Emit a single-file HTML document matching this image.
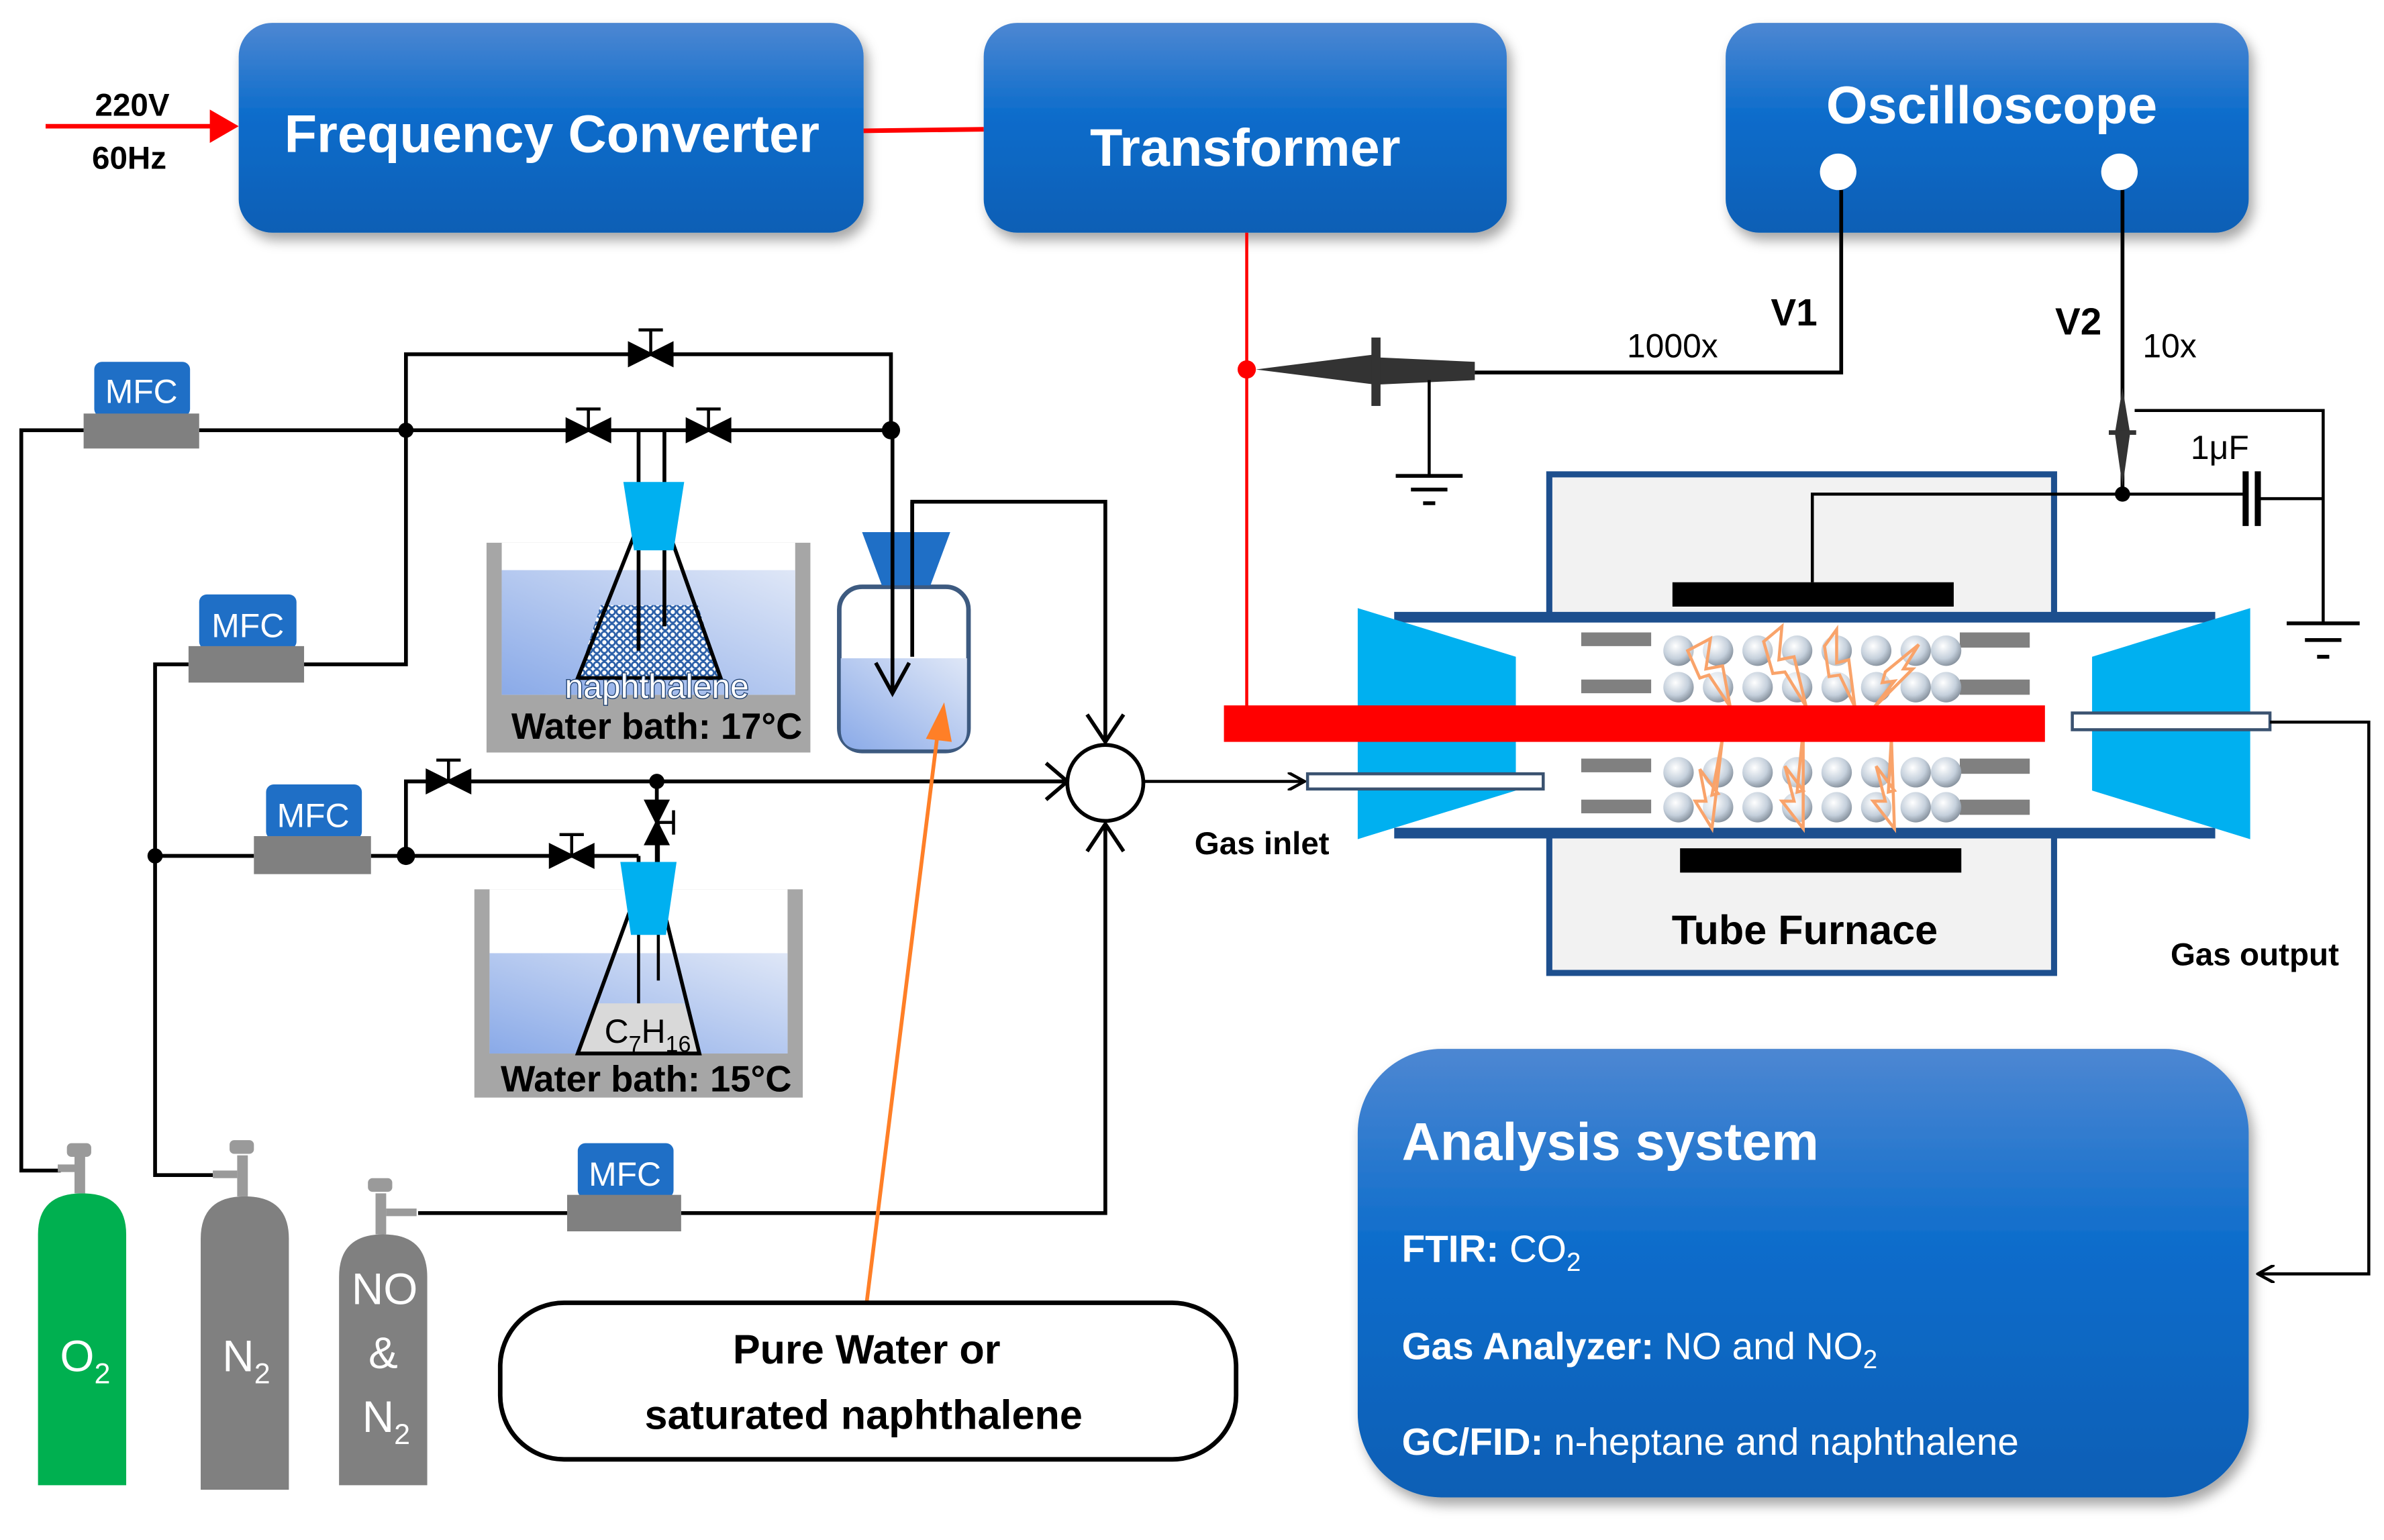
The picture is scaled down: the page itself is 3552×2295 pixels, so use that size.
<!DOCTYPE html>
<html><head><meta charset="utf-8"><style>
html,body{margin:0;padding:0;background:#fff;}
svg{display:block;}
text{font-family:"Liberation Sans",sans-serif;}
</style></head><body>
<svg width="3552" height="2295" viewBox="0 0 1568 1013" xmlns="http://www.w3.org/2000/svg">
<defs>
<linearGradient id="bg" x1="0" y1="0" x2="0" y2="1">
<stop offset="0" stop-color="#4d87d2"/><stop offset="0.45" stop-color="#0b6ccb"/><stop offset="1" stop-color="#0a5fb5"/>
</linearGradient>
<linearGradient id="wat" x1="0" y1="1" x2="1" y2="0">
<stop offset="0" stop-color="#8aaae8"/><stop offset="1" stop-color="#dfe7f7"/>
</linearGradient>
<radialGradient id="sph" cx="0.4" cy="0.35" r="0.7">
<stop offset="0" stop-color="#ffffff"/><stop offset="0.6" stop-color="#c5d0dc"/><stop offset="1" stop-color="#7f8a96"/>
</radialGradient>
<pattern id="nap" width="5" height="5" patternUnits="userSpaceOnUse">
<rect width="5" height="5" fill="#fff"/><circle cx="2.5" cy="2.5" r="2" fill="none" stroke="#2b5fa8" stroke-width="1.2"/>
</pattern>
<filter id="sh" x="-10%" y="-10%" width="125%" height="130%">
<feDropShadow dx="3" dy="5" stdDeviation="4" flood-color="#000" flood-opacity="0.35"/>
</filter>
<marker id="ar" markerWidth="12" markerHeight="12" refX="11" refY="6" orient="auto" markerUnits="userSpaceOnUse">
<path d="M0,0 L11,6 L0,12" fill="none" stroke="#000" stroke-width="2"/>
</marker>
</defs>

<rect x="157" y="15" width="411" height="138" rx="22" fill="url(#bg)" filter="url(#sh)"/>
<rect x="647" y="15" width="344" height="138" rx="22" fill="url(#bg)" filter="url(#sh)"/>
<rect x="1135" y="15" width="344" height="138" rx="22" fill="url(#bg)" filter="url(#sh)"/>
<text x="363" y="100" font-size="35" font-weight="bold" fill="#fff" text-anchor="middle">Frequency Converter</text>
<text x="819" y="109" font-size="35" font-weight="bold" fill="#fff" text-anchor="middle">Transformer</text>
<text x="1310" y="81" font-size="35" font-weight="bold" fill="#fff" text-anchor="middle">Oscilloscope</text>
<circle cx="1209" cy="113" r="12" fill="#fff"/>
<circle cx="1394" cy="113" r="12" fill="#fff"/>

<text x="87" y="76" font-size="21" font-weight="bold" text-anchor="middle">220V</text>
<text x="85" y="111" font-size="21" font-weight="bold" text-anchor="middle">60Hz</text>
<line x1="30" y1="83" x2="140" y2="83" stroke="#f00" stroke-width="3"/>
<polygon points="138,72 157,83 138,94" fill="#f00"/>
<line x1="568" y1="86" x2="647" y2="85" stroke="#f00" stroke-width="3"/>

<line x1="820" y1="153" x2="820" y2="465" stroke="#f00" stroke-width="2"/>
<circle cx="820" cy="243" r="6" fill="#f00"/>
<polygon points="826,243 905,233 905,253" fill="#333"/>
<polygon points="905,235 970,238 970,250 905,253" fill="#333"/>
<rect x="902" y="222" width="6" height="45" fill="#333"/>
<line x1="940" y1="250" x2="940" y2="313" stroke="#000" stroke-width="2"/>
<line x1="918" y1="313" x2="962" y2="313" stroke="#000" stroke-width="2.5"/>
<line x1="928" y1="322" x2="952" y2="322" stroke="#000" stroke-width="2.5"/>
<line x1="936" y1="331" x2="944" y2="331" stroke="#000" stroke-width="2.5"/>
<polyline points="970,245 1211,245 1211,125" fill="none" stroke="#000" stroke-width="2.5"/>
<text x="1180" y="214" font-size="25" font-weight="bold" text-anchor="middle">V1</text>
<text x="1100" y="235" font-size="22" text-anchor="middle">1000x</text>
<line x1="1396" y1="125" x2="1396" y2="325" stroke="#000" stroke-width="2.5"/>
<polygon points="1396,255 1401,285 1396,320 1391,285" fill="#333"/>
<rect x="1387" y="283" width="18" height="3" fill="#333"/>
<circle cx="1396" cy="325" r="5" fill="#000"/>
<text x="1367" y="220" font-size="25" font-weight="bold" text-anchor="middle">V2</text>
<text x="1427" y="235" font-size="22" text-anchor="middle">10x</text>
<polyline points="1404,270 1528,270 1528,410" fill="none" stroke="#000" stroke-width="2"/>
<line x1="1504" y1="410" x2="1552" y2="410" stroke="#000" stroke-width="2.5"/>
<line x1="1516" y1="421" x2="1540" y2="421" stroke="#000" stroke-width="2.5"/>
<line x1="1524" y1="432" x2="1532" y2="432" stroke="#000" stroke-width="2.5"/>
<line x1="1396" y1="325" x2="1477" y2="325" stroke="#000" stroke-width="2"/>
<line x1="1477" y1="310" x2="1477" y2="346" stroke="#000" stroke-width="4"/>
<line x1="1485" y1="310" x2="1485" y2="346" stroke="#000" stroke-width="4"/>
<line x1="1485" y1="328" x2="1528" y2="328" stroke="#000" stroke-width="2"/>
<text x="1460" y="302" font-size="22" text-anchor="middle">1μF</text>

<rect x="1019" y="312" width="332" height="328" fill="#f2f2f2" stroke="#1d4f8e" stroke-width="4"/>
<rect x="917" y="404" width="540" height="146" fill="#fff"/>
<line x1="917" y1="406" x2="1457" y2="406" stroke="#1d4f8e" stroke-width="7"/>
<line x1="917" y1="548" x2="1457" y2="548" stroke="#1d4f8e" stroke-width="7"/>
<polyline points="1192,383 1192,325 1396,325" fill="none" stroke="#000" stroke-width="2"/>
<rect x="1100" y="383" width="185" height="16" fill="#000"/>
<rect x="1105" y="558" width="185" height="16" fill="#000"/>
<polygon points="893,400 997,432 997,520 893,552" fill="#00b0f0"/>
<polygon points="1376,432 1480,400 1480,552 1376,520" fill="#00b0f0"/>
<g fill="#808080">
<rect x="1040" y="416" width="46" height="9"/><rect x="1040" y="447" width="46" height="9"/>
<rect x="1040" y="499" width="46" height="9"/><rect x="1040" y="526" width="46" height="9"/>
<rect x="1289" y="416" width="46" height="10"/><rect x="1289" y="447" width="46" height="10"/>
<rect x="1289" y="499" width="46" height="10"/><rect x="1289" y="526" width="46" height="10"/>
</g>
<g fill="url(#sph)">
<circle cx="1104" cy="428" r="10"/><circle cx="1130" cy="428" r="10"/><circle cx="1156" cy="428" r="10"/><circle cx="1182" cy="428" r="10"/><circle cx="1208" cy="428" r="10"/><circle cx="1234" cy="428" r="10"/><circle cx="1260" cy="428" r="10"/><circle cx="1280" cy="428" r="10"/>
<circle cx="1104" cy="452" r="10"/><circle cx="1130" cy="452" r="10"/><circle cx="1156" cy="452" r="10"/><circle cx="1182" cy="452" r="10"/><circle cx="1208" cy="452" r="10"/><circle cx="1234" cy="452" r="10"/><circle cx="1260" cy="452" r="10"/><circle cx="1280" cy="452" r="10"/>
<circle cx="1104" cy="508" r="10"/><circle cx="1130" cy="508" r="10"/><circle cx="1156" cy="508" r="10"/><circle cx="1182" cy="508" r="10"/><circle cx="1208" cy="508" r="10"/><circle cx="1234" cy="508" r="10"/><circle cx="1260" cy="508" r="10"/><circle cx="1280" cy="508" r="10"/>
<circle cx="1104" cy="531" r="10"/><circle cx="1130" cy="531" r="10"/><circle cx="1156" cy="531" r="10"/><circle cx="1182" cy="531" r="10"/><circle cx="1208" cy="531" r="10"/><circle cx="1234" cy="531" r="10"/><circle cx="1260" cy="531" r="10"/><circle cx="1280" cy="531" r="10"/>
</g>
<g fill="rgba(255,255,255,0.4)" stroke="#f9a36a" stroke-width="2">
<polygon points="1110,428 1125,420 1122,440 1133,438 1138,465 1124,444 1118,446"/>
<polygon points="1160,422 1172,412 1170,434 1180,432 1188,465 1174,442 1166,443"/>
<polygon points="1200,425 1208,414 1208,436 1216,434 1220,465 1210,444 1203,445"/>
<polygon points="1240,442 1262,424 1252,440 1258,440 1232,466 1246,448 1238,449"/>
<polygon points="1126,545 1115,527 1122,527 1118,506 1130,522 1126,523 1133,485"/>
<polygon points="1186,545 1172,527 1180,527 1174,504 1186,520 1182,521 1186,480"/>
<polygon points="1246,545 1232,527 1240,527 1234,504 1246,520 1242,521 1244,485"/>
</g>
<rect x="805" y="464" width="540" height="24" fill="#f00"/>
<rect x="860" y="509" width="155" height="10" fill="#fff" stroke="#3a5270" stroke-width="2"/>
<rect x="1363" y="469" width="130" height="11" fill="#fff" stroke="#3a5270" stroke-width="2"/>
<line x1="752" y1="514" x2="858" y2="514" stroke="#000" stroke-width="2" marker-end="url(#ar)"/>
<text x="830" y="562" font-size="21" font-weight="bold" text-anchor="middle">Gas inlet</text>
<text x="1187" y="621" font-size="27" font-weight="bold" text-anchor="middle">Tube Furnace</text>
<polyline points="1493,475 1558,475 1558,838 1485,838" fill="none" stroke="#000" stroke-width="2" marker-end="url(#ar)"/>
<text x="1483" y="635" font-size="21" font-weight="bold" text-anchor="middle">Gas output</text>

<rect x="893" y="690" width="586" height="295" rx="55" fill="url(#bg)" filter="url(#sh)"/>
<text x="922" y="763" font-size="35" font-weight="bold" fill="#fff">Analysis system</text>
<text x="922" y="830" font-size="25" fill="#fff"><tspan font-weight="bold">FTIR:</tspan> CO<tspan font-size="17" dy="6">2</tspan></text>
<text x="922" y="894" font-size="25" fill="#fff"><tspan font-weight="bold">Gas Analyzer:</tspan> NO and NO<tspan font-size="17" dy="6">2</tspan></text>
<text x="922" y="957" font-size="25" fill="#fff"><tspan font-weight="bold">GC/FID:</tspan> n-heptane and naphthalene</text>

<g stroke="#000" stroke-width="2.5" fill="none">
<polyline points="55,283 14,283 14,770 40,770"/>
<line x1="131" y1="283" x2="586" y2="283"/>
<polyline points="267,283 267,233 586,233 586,283"/>
<polyline points="200,437 267,437 267,283"/>
<polyline points="124,437 102,437 102,773 140,773"/>
<line x1="102" y1="563" x2="167" y2="563"/>
<line x1="244" y1="563" x2="420" y2="563"/>
<polyline points="267,563 267,514 700,514"/>
<polyline points="688,502 702,514 688,526"/>
<line x1="432" y1="514" x2="432" y2="600"/>
<line x1="420" y1="563" x2="420" y2="640"/>
<polyline points="600,460 600,330 727,330 727,488"/>
<polyline points="715,470 727,488 739,470"/>
<polyline points="275,798 373,798"/>
<polyline points="448,798 727,798 727,542"/>
<polyline points="715,560 727,542 739,560"/>
</g>
<circle cx="727" cy="515" r="25" fill="#fff" stroke="#000" stroke-width="2.5"/>
<g fill="#000">
<circle cx="267" cy="283" r="5"/><circle cx="586" cy="283" r="6"/><circle cx="102" cy="563" r="5"/><circle cx="267" cy="563" r="6"/><circle cx="432" cy="514" r="5"/>
</g>
<g fill="#000" stroke="#000" stroke-width="2">
<polygon points="414,226 428,233 414,240"/><polygon points="442,226 428,233 442,240"/><line x1="428" y1="233" x2="428" y2="217"/><line x1="420" y1="217" x2="436" y2="217"/>
<polygon points="373,276 387,283 373,290"/><polygon points="401,276 387,283 401,290"/><line x1="387" y1="283" x2="387" y2="269"/><line x1="379" y1="269" x2="395" y2="269"/>
<polygon points="452,276 466,283 452,290"/><polygon points="480,276 466,283 480,290"/><line x1="466" y1="283" x2="466" y2="269"/><line x1="458" y1="269" x2="474" y2="269"/>
<polygon points="281,507 295,514 281,521"/><polygon points="309,507 295,514 309,521"/><line x1="295" y1="514" x2="295" y2="500"/><line x1="287" y1="500" x2="303" y2="500"/>
<polygon points="362,556 376,563 362,570"/><polygon points="390,556 376,563 390,570"/><line x1="376" y1="563" x2="376" y2="549"/><line x1="368" y1="549" x2="384" y2="549"/>
<polygon points="425,527 432,541 439,527"/><polygon points="425,555 432,541 439,555"/><line x1="432" y1="541" x2="443" y2="541"/><line x1="443" y1="533" x2="443" y2="549"/>
</g>
<g>
<rect x="62" y="238" width="63" height="36" rx="5" fill="#1f6fc6"/><rect x="55" y="272" width="76" height="23" fill="#808080"/>
<text x="93" y="265" font-size="22" fill="#fff" text-anchor="middle">MFC</text>
<rect x="131" y="391" width="64" height="36" rx="5" fill="#1f6fc6"/><rect x="124" y="425" width="76" height="24" fill="#808080"/>
<text x="163" y="419" font-size="22" fill="#fff" text-anchor="middle">MFC</text>
<rect x="175" y="516" width="63" height="36" rx="5" fill="#1f6fc6"/><rect x="167" y="550" width="77" height="25" fill="#808080"/>
<text x="206" y="544" font-size="22" fill="#fff" text-anchor="middle">MFC</text>
<rect x="380" y="752" width="63" height="36" rx="5" fill="#1f6fc6"/><rect x="373" y="786" width="75" height="24" fill="#808080"/>
<text x="411" y="780" font-size="22" fill="#fff" text-anchor="middle">MFC</text>
</g>

<!-- water bath 1 -->
<rect x="320" y="357" width="213" height="138" fill="#a6a6a6"/>
<rect x="330" y="357" width="193" height="100" fill="#fff"/>
<rect x="330" y="375" width="193" height="82" fill="url(#wat)"/>
<polygon points="395,398 459,398 474,446 380,446" fill="url(#nap)"/>
<polyline points="418,350 380,446 474,446 440,350" fill="none" stroke="#000" stroke-width="2.5"/>
<line x1="420" y1="283" x2="420" y2="428" stroke="#000" stroke-width="2.5"/>
<line x1="437" y1="283" x2="437" y2="412" stroke="#000" stroke-width="2.5"/>
<polygon points="410,317 450,317 443,362 417,362" fill="#00b0f0"/>
<text x="432" y="459" font-size="22" fill="#fff" text-anchor="middle" stroke="#1d3f70" stroke-width="1.2" paint-order="stroke">naphthalene</text>
<text x="432" y="486" font-size="24" font-weight="bold" text-anchor="middle">Water bath: 17°C</text>

<rect x="552" y="386" width="85" height="108" rx="15" fill="#fff" stroke="#3d5a80" stroke-width="3"/>
<path d="M553,433 H636 V480 Q636,493 622,493 H567 Q553,493 553,480 Z" fill="url(#wat)"/>
<polygon points="567,350 625,350 612,385 580,385" fill="#1f6fc6"/>
<line x1="587" y1="283" x2="587" y2="455" stroke="#000" stroke-width="2.5"/>
<polyline points="576,436 587,456 598,436" fill="none" stroke="#000" stroke-width="2.5"/>
<line x1="600" y1="330" x2="600" y2="432" stroke="#000" stroke-width="2.5"/>

<!-- water bath 2 -->
<rect x="312" y="585" width="216" height="137" fill="#a6a6a6"/>
<rect x="322" y="585" width="196" height="108" fill="#fff"/>
<rect x="322" y="627" width="196" height="66" fill="url(#wat)"/>
<polygon points="392,660 450,660 460,693 380,693" fill="#d9d9d9"/>
<polyline points="414,600 380,693 460,693 437,600" fill="none" stroke="#000" stroke-width="2.5"/>
<line x1="420" y1="563" x2="420" y2="660" stroke="#000" stroke-width="2"/>
<line x1="433" y1="540" x2="433" y2="645" stroke="#000" stroke-width="2"/>
<polygon points="408,567 445,567 438,615 415,615" fill="#00b0f0"/>
<text x="426" y="686" font-size="22" text-anchor="middle">C<tspan font-size="15" dy="6">7</tspan><tspan dy="-6">H</tspan><tspan font-size="15" dy="6">16</tspan></text>
<text x="425" y="718" font-size="24" font-weight="bold" text-anchor="middle">Water bath: 15°C</text>

<path d="M25,977 V812 Q25,785 54,785 Q83,785 83,812 V977 Z" fill="#00b050"/>
<path d="M132,980 V815 Q132,787 161,787 Q190,787 190,815 V980 Z" fill="#808080"/>
<path d="M223,977 V840 Q223,812 252,812 Q281,812 281,840 V977 Z" fill="#808080"/>
<g fill="#9a9a9a">
<rect x="49" y="760" width="7" height="25"/><rect x="44" y="752" width="16" height="9" rx="3"/><rect x="38" y="766" width="12" height="5"/>
<rect x="156" y="760" width="7" height="27"/><rect x="151" y="750" width="16" height="9" rx="3"/><rect x="140" y="770" width="16" height="5"/>
<rect x="247" y="785" width="7" height="27"/><rect x="242" y="775" width="16" height="9" rx="3"/><rect x="254" y="795" width="20" height="5"/>
</g>
<text x="56" y="902" font-size="29" fill="#fff" text-anchor="middle">O<tspan font-size="19" dy="8">2</tspan></text>
<text x="162" y="902" font-size="29" fill="#fff" text-anchor="middle">N<tspan font-size="19" dy="8">2</tspan></text>
<text x="253" y="858" font-size="29" fill="#fff" text-anchor="middle">NO</text>
<text x="252" y="900" font-size="29" fill="#fff" text-anchor="middle">&amp;</text>
<text x="254" y="942" font-size="29" fill="#fff" text-anchor="middle">N<tspan font-size="19" dy="8">2</tspan></text>

<line x1="570" y1="857" x2="617" y2="480" stroke="#ff7f27" stroke-width="2.5"/>
<polygon points="609,486 621,462 626,488" fill="#ff7f27"/>
<rect x="329" y="857" width="484" height="103" rx="42" fill="#fff" stroke="#000" stroke-width="3"/>
<text x="570" y="897" font-size="27" font-weight="bold" text-anchor="middle">Pure Water or</text>
<text x="568" y="940" font-size="27" font-weight="bold" text-anchor="middle">saturated naphthalene</text>
</svg>
</body></html>
